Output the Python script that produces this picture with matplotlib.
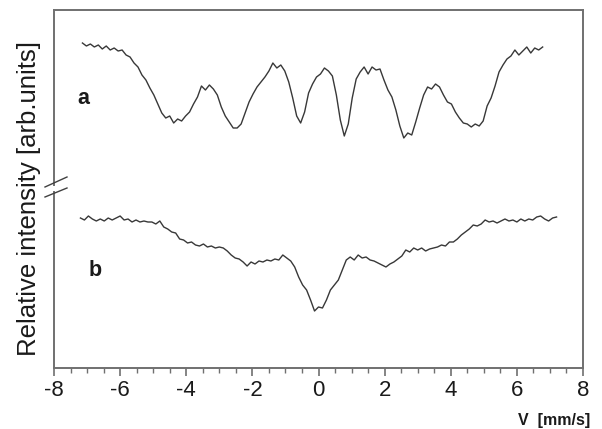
import matplotlib
matplotlib.use("Agg")
import matplotlib.pyplot as plt
from matplotlib.lines import Line2D
from matplotlib.patches import Rectangle
from matplotlib.ticker import MultipleLocator

# velocity channels [mm/s] and relative intensities [arb. units]
v_a = [-7.14,-7.02,-6.90,-6.78,-6.66,-6.54,-6.42,-6.30,-6.18,-6.06,
       -5.94,-5.82,-5.70,-5.58,-5.46,-5.34,-5.22,-5.10,-4.98,-4.86,
       -4.74,-4.62,-4.50,-4.38,-4.26,-4.14,-4.02,-3.90,-3.78,-3.66,
       -3.54,-3.42,-3.30,-3.18,-3.06,-2.94,-2.82,-2.70,-2.58,-2.46,
       -2.34,-2.22,-2.10,-1.98,-1.86,-1.74,-1.62,-1.50,-1.38,-1.26,
       -1.14,-1.02,-0.90,-0.78,-0.66,-0.54,-0.42,-0.30,-0.18,-0.06,
       0.06,0.18,0.30,0.42,0.54,0.66,0.78,0.90,1.02,1.14,
       1.26,1.38,1.50,1.62,1.74,1.86,1.98,2.10,2.22,2.34,
       2.46,2.58,2.70,2.82,2.94,3.06,3.18,3.30,3.42,3.54,
       3.66,3.78,3.90,4.02,4.14,4.26,4.38,4.50,4.62,4.74,
       4.86,4.98,5.10,5.22,5.34,5.46,5.58,5.70,5.82,5.94,
       6.06,6.18,6.30,6.42,6.54,6.66,6.78]
int_a = [325,322,324,321,323,319,322,318,320,317,
         318,313,311,305,301,293,288,280,273,264,
         255,250,252,245,249,247,252,256,264,271,
         282,278,283,279,273,261,252,246,240,240,
         244,255,266,274,281,286,291,297,305,300,
         303,297,286,270,252,245,256,275,284,291,
         294,300,297,292,273,248,232,244,270,289,
         296,301,294,301,298,299,288,278,271,258,
         242,230,235,233,246,260,273,281,279,284,
         281,273,266,264,256,250,245,244,241,244,
         242,247,262,270,282,296,303,309,312,318,
         313,317,321,315,320,318,321]

v_b = [-7.20,-7.08,-6.96,-6.84,-6.72,-6.60,-6.48,-6.36,-6.24,-6.12,
       -6.00,-5.88,-5.76,-5.64,-5.52,-5.40,-5.28,-5.16,-5.04,-4.92,
       -4.80,-4.68,-4.56,-4.44,-4.32,-4.20,-4.08,-3.96,-3.84,-3.72,
       -3.60,-3.48,-3.36,-3.24,-3.12,-3.00,-2.88,-2.76,-2.64,-2.52,
       -2.40,-2.28,-2.16,-2.04,-1.92,-1.80,-1.68,-1.56,-1.44,-1.32,
       -1.20,-1.08,-0.96,-0.84,-0.72,-0.60,-0.48,-0.36,-0.24,-0.12,
       0.00,0.12,0.24,0.36,0.48,0.60,0.72,0.84,0.96,1.08,
       1.20,1.32,1.44,1.56,1.68,1.80,1.92,2.04,2.16,2.28,
       2.40,2.52,2.64,2.76,2.88,3.00,3.12,3.24,3.36,3.48,
       3.60,3.72,3.84,3.96,4.08,4.20,4.32,4.44,4.56,4.68,
       4.80,4.92,5.04,5.16,5.28,5.40,5.52,5.64,5.76,5.88,
       6.00,6.12,6.24,6.36,6.48,6.60,6.72,6.84,6.96,7.08,
       7.20]
int_b = [150,148,152,149,147,149,147,150,148,150,
         152,148,149,146,148,146,147,146,146,144,
         147,141,139,136,135,129,128,125,126,123,
         122,124,121,122,120,121,120,117,113,110,
         109,106,102,106,104,107,106,108,107,109,
         108,113,110,107,101,91,83,78,68,57,
         61,60,68,78,83,88,98,108,111,108,
         113,110,111,108,107,105,103,101,104,106,
         109,112,118,116,120,118,120,117,119,120,
         121,123,122,126,126,129,133,136,139,143,
         142,144,148,146,147,145,147,149,147,148,
         146,149,147,149,148,151,152,149,147,150,
         151]

x_ticks = [-8, -6, -4, -2, 0, 2, 4, 6, 8]
labels = ["a", "b"]

plt.rcParams['font.family'] = ['Liberation Sans', 'DejaVu Sans']

W, H = 602, 429
fig = plt.figure(figsize=(W / 100, H / 100), dpi=100)
ax = fig.add_axes([54 / W, 1 - 368 / H, (583 - 54) / W, (368 - 10) / H])

line_col = '#383838'
ax.plot(v_a, int_a, color=line_col, lw=1.0)
ax.plot(v_b, int_b, color=line_col, lw=1.0)

ax.set_xlim(-8, 8)
ax.set_ylim(0, 358)
ax.set_xticks(x_ticks)
ax.set_xticklabels([str(t) for t in x_ticks])
ax.xaxis.set_minor_locator(MultipleLocator(0.5))
ax.set_yticks([])

spine_col = '#707070'
for s in ax.spines.values():
    s.set_color(spine_col)
    s.set_linewidth(1.4)

ax.tick_params(axis='x', which='major', direction='out', length=6, width=1.2,
               color=spine_col, labelsize=16, labelcolor='#1a1a1a', pad=3)
ax.tick_params(axis='x', which='minor', direction='out', length=3.5, width=1.0,
               color=spine_col)

ax.text(-7.1, 270, labels[0], fontsize=15.5, fontweight='bold', color='#1a1a1a',
        ha='center', va='center')
ax.text(-6.77, 97, labels[1], fontsize=15.5, fontweight='bold', color='#1a1a1a',
        ha='center', va='center')

fig.text(29 / W, 1 - 198 / H, "Relative intensity [arb.units]", rotation=90,
         fontsize=18.5, color='#1a1a1a', ha='center', va='center')
fig.text(590 / W, 1 - 420 / H, "V  [mm/s]", fontsize=11.5, fontweight='bold',
         color='#1a1a1a', ha='right', va='center')

# axis-break mark on the left spine
def fp(x, y):
    return x / W, 1 - y / H

fig.patches.append(Rectangle(fp(51, 191), 6 / W, 5 / H, transform=fig.transFigure,
                             facecolor='white', edgecolor='none', zorder=5))
for (x0, y0, x1, y1) in [(45, 187, 67, 177), (45, 197, 67, 188)]:
    (a0, b0), (a1, b1) = fp(x0, y0), fp(x1, y1)
    fig.lines.append(Line2D([a0, a1], [b0, b1], transform=fig.transFigure,
                            color='#404040', lw=1.0, zorder=6))

fig.savefig("out.png", dpi=100)
